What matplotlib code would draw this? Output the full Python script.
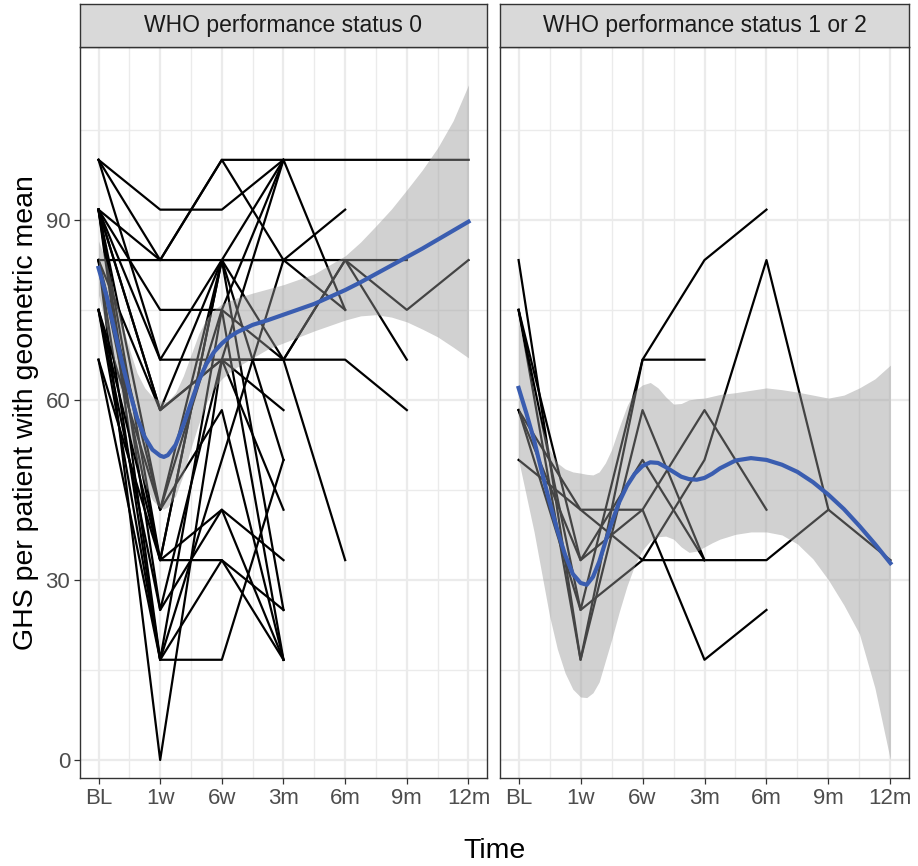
import numpy as np
import matplotlib.pyplot as plt

plt.rcParams['font.family'] = ['Liberation Sans', 'DejaVu Sans']

N = np.nan

# time points (categories) and tick labels
times = ['BL', '1w', '6w', '3m', '6m', '9m', '12m']
xpos = np.arange(1, 8)

# GHS per patient, WHO performance status 0
who0 = [
    [100, 91.7, 91.7, 100, N, N, N],
    [100, 83.3, 100, 100, 100, 100, 100],
    [100, 66.7, 83.3, 100, N, N, N],
    [91.7, 83.3, 83.3, 83.3, 83.3, 83.3, N],
    [91.7, 75, 75, 100, 75, N, N],
    [91.7, 66.7, 66.7, 58.3, N, N, N],
    [91.7, 58.3, 83.3, 66.7, 66.7, 58.3, N],
    [91.7, 41.7, 83.3, 83.3, 91.7, N, N],
    [91.7, 33.3, 83.3, 50, N, N, N],
    [91.7, 16.7, 75, 16.7, N, N, N],
    [83.3, 83.3, 100, 83.3, 75, N, N],
    [83.3, 58.3, 66.7, 100, N, N, N],
    [83.3, 41.7, 75, 66.7, 83.3, 75, 83.3],
    [83.3, 33.3, 83.3, 25, N, N, N],
    [83.3, 16.7, 50, 83.3, N, N, N],
    [83.3, 0, 66.7, 41.7, N, N, N],
    [75, 41.7, 58.3, 16.7, N, N, N],
    [75, 33.3, 41.7, 33.3, N, N, N],
    [75, 25, 41.7, 16.7, N, N, N],
    [75, 16.7, 16.7, 50, N, N, N],
    [66.7, 33.3, 33.3, 25, N, N, N],
    [66.7, 16.7, 33.3, 16.7, N, N, N],
    [91.7, 25, 66.7, 66.7, 33.3, N, N],
    [91.7, 58.3, 66.7, 66.7, 83.3, 66.7, N],
]

# GHS per patient, WHO performance status 1 or 2
who12 = [
    [83.3, 16.7, 66.7, 83.3, 91.7, N, N],
    [75, 16.7, 58.3, 33.3, N, N, N],
    [75, 25, 66.7, 66.7, N, N, N],
    [58.3, 33.3, 41.7, 16.7, 25, N, N],
    [50, 41.7, 41.7, 58.3, 41.7, N, N],
    [58.3, 25, 33.3, 50, 83.3, 41.7, 33.3],
    [75, 33.3, 50, 33.3, N, N, N],
    [58.3, 41.7, 33.3, 33.3, 33.3, 41.7, N],
]

# geometric-mean smooth with confidence band
sm0_x = [1, 1.125, 1.25, 1.375, 1.5, 1.625, 1.75, 1.875, 2, 2.06, 2.125, 2.25,
         2.375, 2.5, 2.625, 2.75, 2.875, 3, 3.125, 3.25, 3.5, 3.75, 4, 4.5, 5,
         5.25, 5.5, 5.75, 6, 6.25, 6.5, 6.75, 7]
sm0_fit = [82, 77.5, 72, 66.5, 61.5, 57, 53.8, 51.7, 50.7, 50.5, 50.8, 52.5,
           55.8, 59.5, 63.2, 66, 68, 69.4, 70.5, 71.3, 72.5, 73.3, 74.2, 76, 78.3,
           79.6, 81, 82.4, 83.8, 85.2, 86.7, 88.2, 89.7]
sm0_lo = [77.5, 72, 66.5, 60.5, 54.5, 49.5, 46, 43.3, 42, 41.8, 42.2, 44,
          47.5, 52, 56, 59.5, 62, 63.5, 64.6, 65.5, 67, 68.5, 69.5, 71.5, 73.3,
          74, 74.2, 73.8, 73, 71.8, 70.5, 68.8, 67]
sm0_hi = [86.5, 83, 78, 73, 68.5, 64.5, 62, 60.5, 59.8, 59.7, 59.8, 61.2,
          64, 67.5, 71, 73.5, 75, 76, 76.5, 77, 77.8, 78.5, 79.2, 81, 84,
          86.3, 89, 91.8, 95, 98.3, 102, 106.5, 112.5]

sm12_x = [1, 1.125, 1.25, 1.375, 1.5, 1.625, 1.75, 1.875, 2, 2.1, 2.2, 2.3, 2.4,
          2.5, 2.625, 2.75, 2.875, 3, 3.125, 3.25, 3.375, 3.5, 3.625, 3.75,
          3.875, 4, 4.125, 4.25, 4.5, 4.75, 5, 5.25, 5.5, 5.75, 6, 6.25, 6.5,
          6.75, 7]
sm12_fit = [62, 57.8, 53.3, 48, 43, 38.3, 34.2, 31, 29.5, 29.2, 30.5, 33, 36.3,
            39.5, 43, 45.7, 47.7, 49, 49.6, 49.5, 48.8, 48, 47.2, 46.8,
            46.7, 47, 47.7, 48.6, 49.9, 50.3, 50, 49.2, 48, 46.3, 44.2, 41.8, 39,
            36, 32.8]
sm12_lo = [50, 44, 38, 31, 24, 18.5, 14.5, 11.8, 10.5, 10.4, 11.2, 13, 16.5,
           20, 24.7, 29, 32.5, 35, 36.5, 37.2, 37.3, 36.8, 35.5, 34.6,
           34.8, 35.5, 36.2, 36.8, 37.6, 38, 38, 37.5, 36, 33.5, 30, 25.8, 21,
           12, 0]
sm12_hi = [73, 67, 61, 55.5, 51.7, 49.5, 48.5, 48, 47.8, 47.6, 47.5, 48, 49.5,
           51.7, 55.5, 59, 61.5, 62.5, 62.9, 62, 60.5, 59.3, 59.4, 60,
           60.2, 60.3, 60.6, 60.9, 61.2, 61.6, 62, 61.7, 61.3, 60.8, 60.3, 60.8, 62,
           63.5, 65.8]

panels = [
    ('WHO performance status 0', who0, sm0_x, sm0_fit, sm0_lo, sm0_hi),
    ('WHO performance status 1 or 2', who12, sm12_x, sm12_fit, sm12_lo, sm12_hi),
]

fig = plt.figure(figsize=(9.18, 8.66), dpi=100)
W, H = 918, 866
bottom = 1 - 778 / H
height = 731 / H
lefts = [(80, 407), (500, 409)]

for i, (title, data, sx, fit, lo, hi) in enumerate(panels):
    x0, w = lefts[i]
    ax = fig.add_axes([x0 / W, bottom, w / W, height])
    ax.set_xlim(0.7, 7.3)
    ax.set_ylim(-3, 118.8)

    # grid like theme_bw
    ax.set_xticks(xpos)
    ax.set_xticks(np.arange(1.5, 7, 1.0), minor=True)
    ax.set_yticks([0, 30, 60, 90])
    ax.set_yticks([15, 45, 75, 105], minor=True)
    ax.grid(which='major', color='#EBEBEB', lw=1.6)
    ax.grid(which='minor', color='#EBEBEB', lw=1.0)
    ax.set_axisbelow(True)

    for row in data:
        ax.plot(xpos, row, color='black', lw=1.6, zorder=2)

    ax.fill_between(sx, lo, hi, color='#999999', alpha=0.45, lw=0, zorder=3)
    ax.plot(sx, fit, color='#3A5DB0', lw=3.0, zorder=4)

    ax.set_xticklabels(times)
    ax.tick_params(which='both', colors='#333333', labelcolor='#4D4D4D',
                   labelsize=16, length=4, width=0.9, pad=3)
    ax.tick_params(which='minor', length=0)
    if i == 0:
        ax.set_ylabel('GHS per patient with geometric mean', fontsize=20.5,
                      labelpad=5)
    else:
        ax.tick_params(axis='y', which='both', left=False, labelleft=False)
    for s in ax.spines.values():
        s.set_color('#333333')
        s.set_linewidth(1.0)

    # facet strip
    sax = fig.add_axes([x0 / W, 1 - 47 / H, w / W, 43 / H])
    sax.set_facecolor('#D9D9D9')
    sax.set_xticks([])
    sax.set_yticks([])
    for s in sax.spines.values():
        s.set_color('#333333')
        s.set_linewidth(1.0)
    sax.text(0.5, 0.5, title, ha='center', va='center', fontsize=16.5,
             color='#1A1A1A', transform=sax.transAxes)

fig.text(495 / W, 1 - 851 / H, 'Time', ha='center', va='center', fontsize=20.5)

fig.savefig('out.png', dpi=100)
